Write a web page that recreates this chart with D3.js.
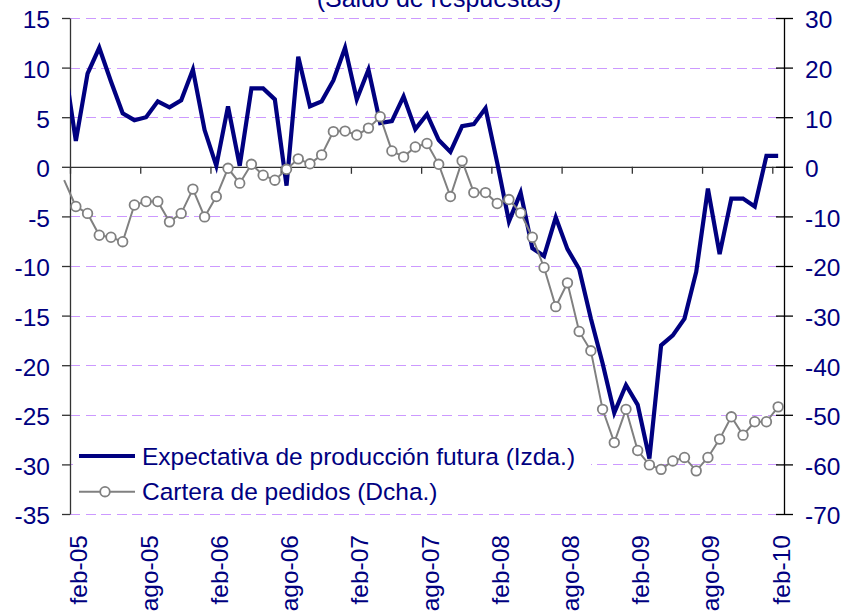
<!DOCTYPE html>
<html><head><meta charset="utf-8">
<script src="https://cdn.jsdelivr.net/npm/d3@7"></script>
<style>
html,body{margin:0;padding:0;background:#fff;}
svg text{font-family:"Liberation Sans",Arial,sans-serif;fill:#000080;}
</style></head>
<body><svg id="c" width="845" height="612"></svg>
<script>
const months = ["ene-05","feb-05","mar-05","abr-05","may-05","jun-05","jul-05","ago-05","sep-05","oct-05","nov-05","dic-05",
"ene-06","feb-06","mar-06","abr-06","may-06","jun-06","jul-06","ago-06","sep-06","oct-06","nov-06","dic-06",
"ene-07","feb-07","mar-07","abr-07","may-07","jun-07","jul-07","ago-07","sep-07","oct-07","nov-07","dic-07",
"ene-08","feb-08","mar-08","abr-08","may-08","jun-08","jul-08","ago-08","sep-08","oct-08","nov-08","dic-08",
"ene-09","feb-09","mar-09","abr-09","may-09","jun-09","jul-09","ago-09","sep-09","oct-09","nov-09","dic-09",
"ene-10","feb-10"];
const expectativa = [10.5,2.6,9.4,12.0,8.6,5.4,4.7,5.0,6.6,6.0,6.7,9.8,
3.7,0.1,6.1,0.1,7.9,7.9,6.8,-1.9,11.1,6.1,6.6,8.7,
12.0,6.8,9.8,4.4,4.6,7.1,3.8,5.3,2.7,1.5,4.1,4.3,
5.9,0.4,-5.5,-2.6,-8.2,-9.0,-5.1,-8.3,-10.3,-15.3,-19.8,-24.8,
-22.0,-24.0,-29.4,-18.0,-17.0,-15.3,-10.6,-2.2,-8.8,-3.2,-3.2,-4.0,
1.1,1.1];
const cartera = [-2.7,-8.0,-9.4,-13.8,-14.2,-15.1,-7.7,-7.0,-7.0,-11.1,-9.4,-4.5,
-10.1,-6.0,-0.3,-3.3,0.5,-1.7,-2.7,-0.5,1.6,0.6,2.4,7.1,
7.2,6.4,7.8,10.1,3.2,2.0,4.0,4.7,0.5,-6.0,1.2,-5.2,
-5.2,-7.4,-6.6,-9.3,-14.2,-20.3,-28.2,-23.4,-33.2,-37.1,-48.9,-55.6,
-48.9,-57.2,-60.1,-61.0,-59.3,-58.6,-61.3,-58.6,-54.9,-50.4,-54.1,-51.4,
-51.4,-48.4];
const xTickLabels = ["feb-05","ago-05","feb-06","ago-06","feb-07","ago-07","feb-08","ago-08","feb-09","ago-09","feb-10"];
const leftTicks = [15,10,5,0,-5,-10,-15,-20,-25,-30,-35];
const rightTicks = [30,20,10,0,-10,-20,-30,-40,-50,-60,-70];
const legendLabels = ["Expectativa de producción futura (Izda.)","Cartera de pedidos (Dcha.)"];
const titleText = "(Saldo de respuestas)";

const L=70, R=784, T=18, B=514;
const svg = d3.select("#c");
svg.append("rect").attr("width",845).attr("height",612).attr("fill","#fff");

const x = d3.scaleLinear().domain([0.5, months.length-0.5]).range([L,R]);
const yL = d3.scaleLinear().domain([-35,15]).range([B,T]);
const yR = d3.scaleLinear().domain([-70,30]).range([B,T]);

// grid
svg.append("g").selectAll("line").data(leftTicks.filter(v=>v!==0)).join("line")
  .attr("x1",L).attr("x2",R).attr("y1",d=>Math.round(yL(d))+0.5).attr("y2",d=>Math.round(yL(d))+0.5)
  .attr("stroke","#cc99ff").attr("stroke-width",1).attr("stroke-dasharray","10,5.5")
  .attr("shape-rendering","crispEdges");

// x axis (zero line) with ticks at category boundaries
const bounds = xTickLabels.map(l=>months.indexOf(l)-0.5);
const xAxis = svg.append("g").attr("transform",`translate(0,${yL(0)})`)
  .call(d3.axisBottom(x).tickValues(bounds).tickSize(7).tickSizeOuter(0).tickFormat(""));
xAxis.select(".domain").attr("stroke","#333").attr("stroke-width",1.3);
xAxis.selectAll(".tick line").attr("stroke","#333").attr("stroke-width",1.3);

// x labels at bottom, rotated
svg.append("g").selectAll("text").data(xTickLabels).join("text")
  .attr("transform",d=>`translate(${x(months.indexOf(d))+11.5},535) rotate(-90)`)
  .attr("text-anchor","end").attr("font-size","24.5px").text(d=>d);

// left axis
const la = svg.append("g").attr("transform",`translate(${L},0)`)
  .call(d3.axisLeft(yL).tickValues(leftTicks).tickSize(8).tickSizeOuter(0).tickPadding(12).tickFormat(d3.format("d")));
la.select(".domain").attr("stroke","#333").attr("stroke-width",1.3);
la.selectAll(".tick line").attr("stroke","#333").attr("stroke-width",1.3);
la.selectAll(".tick text").attr("font-size","24.5px").attr("dy","0.4em").attr("fill","#000080")
  .style("font-family","'Liberation Sans',Arial,sans-serif").text(d=>d<0?"-"+Math.abs(d):d);

// right axis
const ra = svg.append("g").attr("transform",`translate(${R},0)`)
  .call(d3.axisRight(yR).tickValues(rightTicks).tickSize(9).tickSizeOuter(0).tickPadding(12));
ra.select(".domain").attr("stroke","#000").attr("stroke-width",1.3);
ra.selectAll(".tick line").attr("x1",-8).attr("stroke","#000").attr("stroke-width",1.3);
ra.selectAll(".tick text").attr("font-size","24.5px").attr("dy","0.4em").attr("fill","#000080")
  .style("font-family","'Liberation Sans',Arial,sans-serif").text(d=>d<0?"-"+Math.abs(d):d);

// clip for blue
svg.append("clipPath").attr("id","plotclip").append("rect").attr("x",L).attr("y",0).attr("width",R-L).attr("height",612);

const lineL = d3.line().x((d,i)=>x(i)).y(d=>yL(d));
const lineR = d3.line().x((d,i)=>x(i)).y(d=>yR(d));

svg.append("path").datum(expectativa).attr("d",lineL).attr("clip-path","url(#plotclip)")
  .attr("fill","none").attr("stroke","#000080").attr("stroke-width",4.2).attr("stroke-linejoin","miter");

svg.append("path").datum(cartera).attr("d",lineR)
  .attr("fill","none").attr("stroke","#808080").attr("stroke-width",2);
svg.append("g").selectAll("circle").data(cartera.map((v,i)=>({v,i})).filter(d=>d.i>0)).join("circle")
  .attr("cx",d=>x(d.i)).attr("cy",d=>yR(d.v)).attr("r",4.8)
  .attr("fill","#fff").attr("stroke","#808080").attr("stroke-width",1.8);

// legend
const lg = svg.append("g");
lg.append("rect").attr("x",73).attr("y",438).attr("width",518).attr("height",72).attr("fill","#fff");
lg.append("line").attr("x1",79).attr("x2",135).attr("y1",456).attr("y2",456).attr("stroke","#000080").attr("stroke-width",4.2);
lg.append("text").attr("x",142).attr("y",464.5).attr("font-size","24.5px").text(legendLabels[0]);
lg.append("line").attr("x1",79).attr("x2",135).attr("y1",491.7).attr("y2",491.7).attr("stroke","#808080").attr("stroke-width",2);
lg.append("circle").attr("cx",105).attr("cy",491.7).attr("r",4.8).attr("fill","#fff").attr("stroke","#808080").attr("stroke-width",1.8);
lg.append("text").attr("x",142).attr("y",499.5).attr("font-size","24.5px").text(legendLabels[1]);

// title (cut at top, as in the reference)
svg.append("text").attr("x",439).attr("y",7).attr("text-anchor","middle").attr("font-size","25px").text(titleText);
</script></body></html>
